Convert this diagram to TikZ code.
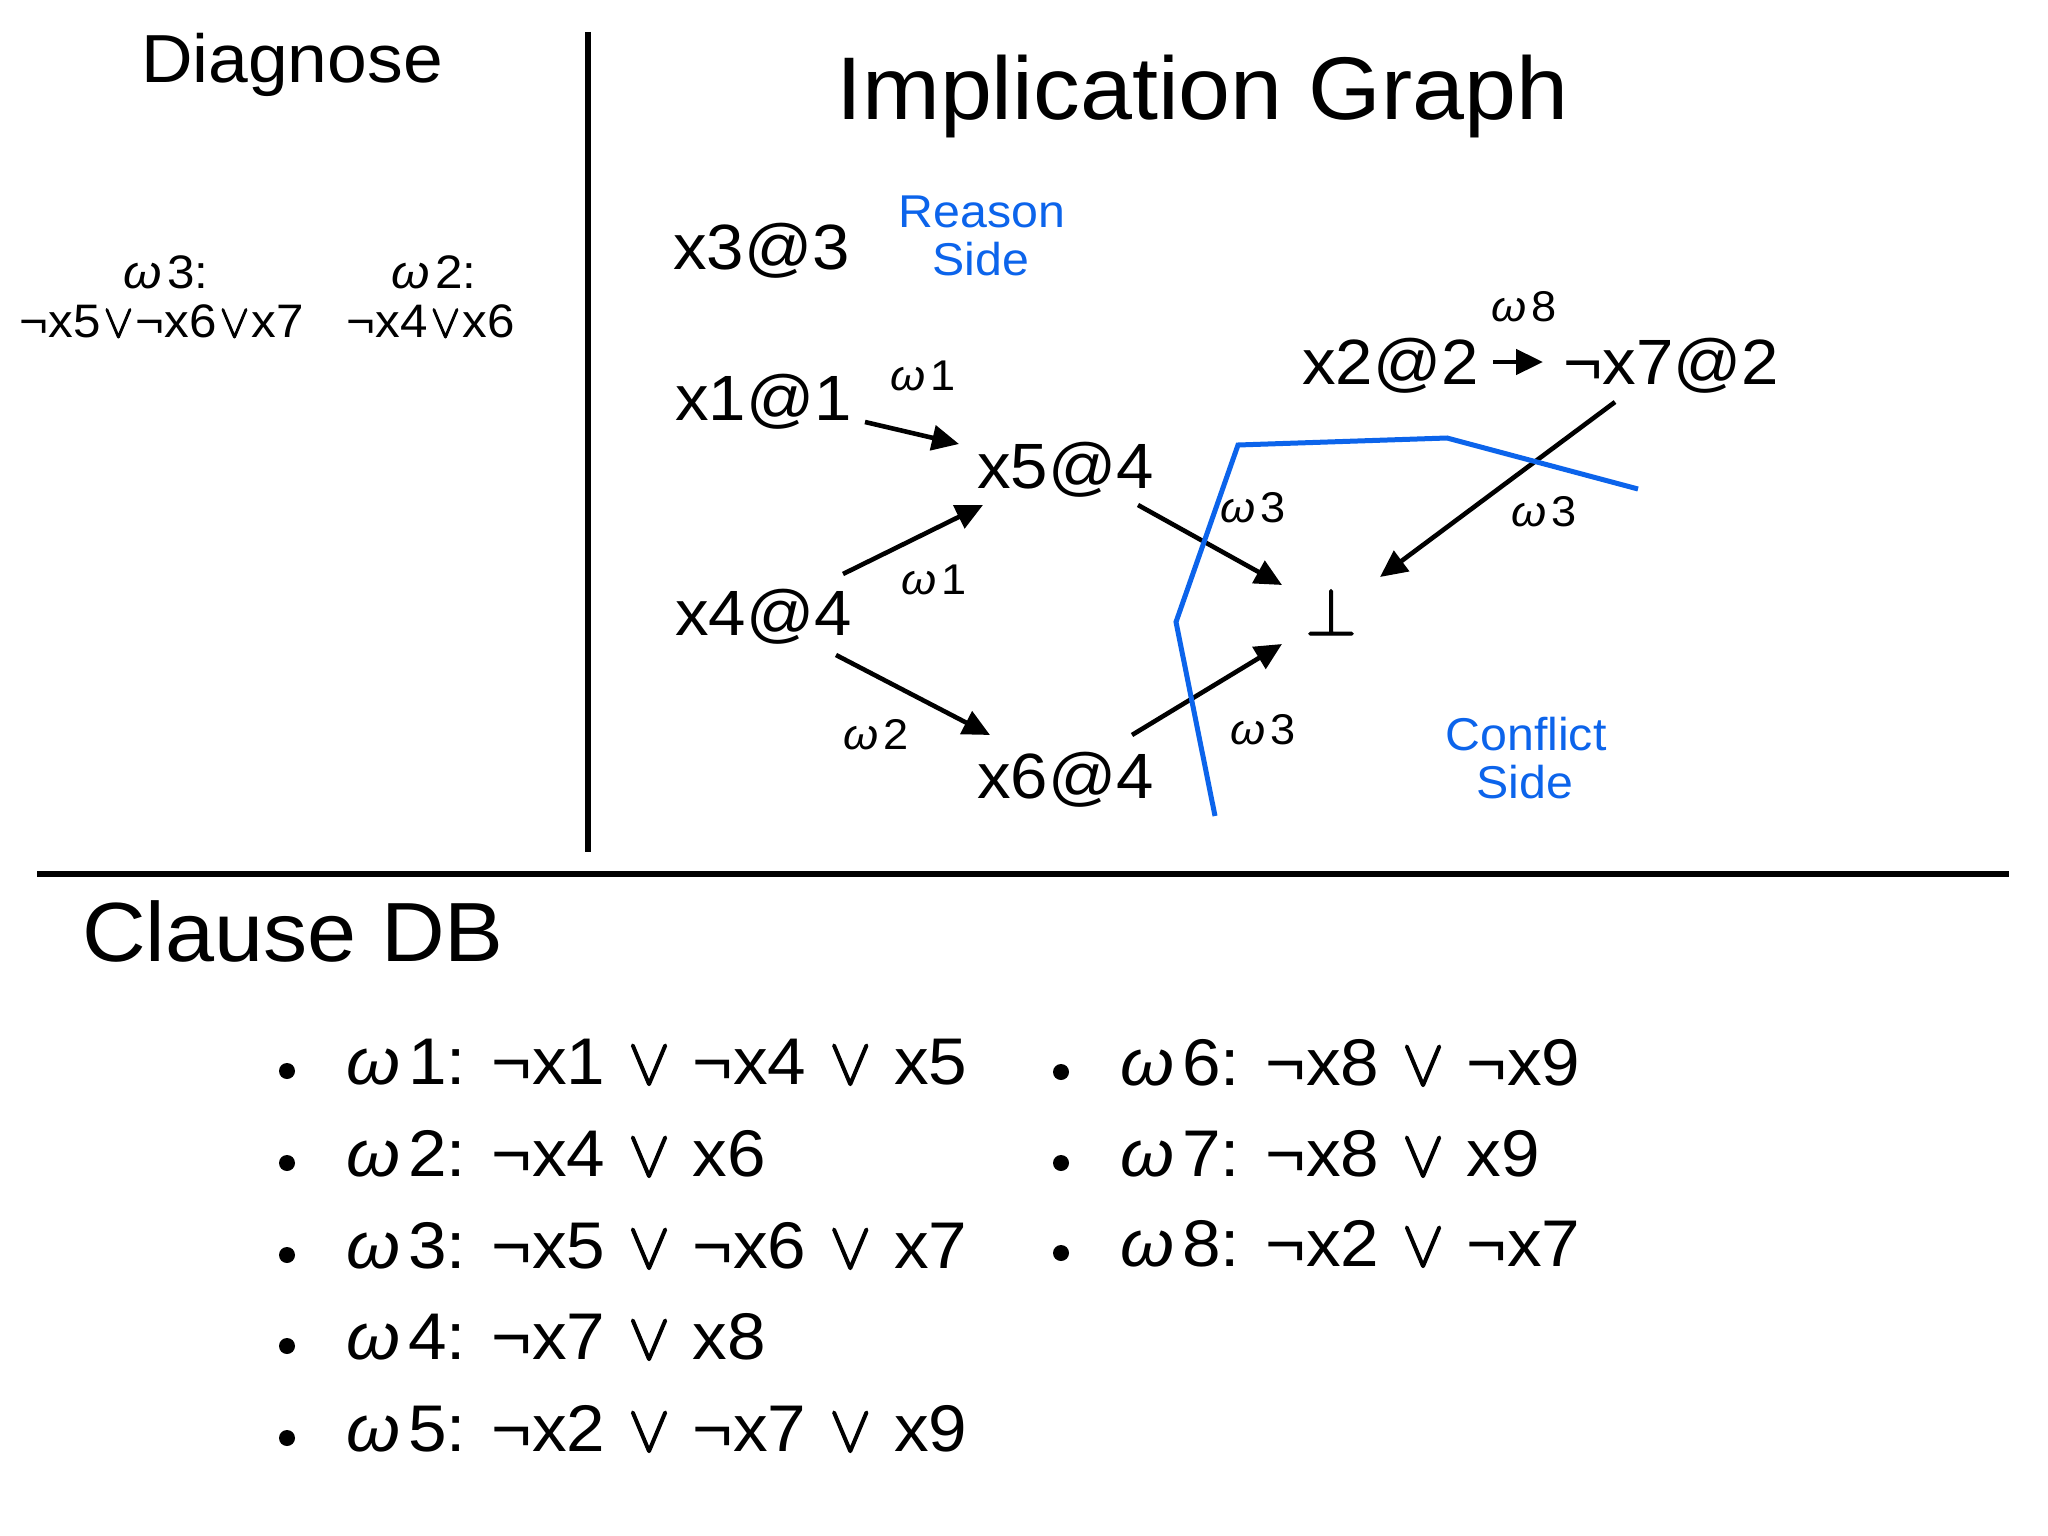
\documentclass[tikz,border=0pt]{standalone}
\usepackage{fontspec}
\setmainfont[FakeStretch=1.05]{Liberation Sans}
\newfontfamily\lmm[FakeBold=2]{latinmodern-math.otf}
\usetikzlibrary{arrows.meta,calc}
\definecolor{cutblue}{RGB}{12,100,235}
\newcommand\om{\textit{ω}\kern0.12em}
\newcommand\myor{\hspace{0.33em}{\lmm ∨}\hspace{0.33em}}
\newcommand\tightor{\hspace{0.04em}{\lmm ∨}\hspace{0.04em}}
\newcommand\mybot{{\lmm ⊥}}
\newcommand\fsz[1]{\fontsize{#1}{#1}\selectfont}
\begin{document}
\begin{tikzpicture}[x=1pt,y=-1pt,
  txt/.style={inner sep=0pt, anchor=base west},
  ctxt/.style={inner sep=0pt, anchor=base},
  gnode/.style={txt, font=\fsz{64}},
  wlab/.style={txt, font=\fsz{43}},
  arr/.style={line width=4.6pt, -{Triangle[length=27pt,width=25pt]}},
  rulel/.style={line width=6pt},
  cut/.style={line width=5pt, draw=cutblue, line join=miter},
  bluetxt/.style={ctxt, text=cutblue, font=\fsz{46}},
  bulletdot/.style={circle, fill=black, inner sep=0pt, minimum size=16pt},
  clause/.style={txt, font=\fsz{66}},
  diagtxt/.style={ctxt, font=\fsz{47}},
]
\fill[white] (0,0) rectangle (2048,1536);
\useasboundingbox (0,0) rectangle (2048,1536);

% separators
\draw[rulel] (588,32) -- (588,852);
\draw[rulel] (37,874) -- (2009,874);

% titles
\node[ctxt, font=\fsz{68}] (diag) at (292,83) {Diagnose};
\node[txt, font=\fsz{89}] (title) at (836,120) {Implication Graph};
\node[txt, font=\fsz{84}] (cdb) at (82,961) {Clause DB};

% diagnose contents
\node[diagtxt] (d3a) at (166,288) {\om3:};
\node[diagtxt] (d3b) at (162,337) {¬x5\tightor¬x6\tightor x7};
\node[diagtxt] (d2a) at (434,288) {\om2:};
\node[diagtxt] (d2b) at (431,337) {¬x4\tightor x6};

% graph nodes
\node[gnode] (x3) at (673,269) {x3@3};
\node[gnode] (x1) at (675,420) {x1@1};
\node[gnode] (x5) at (977,488) {x5@4};
\node[gnode] (x4) at (675,635) {x4@4};
\node[gnode] (x6) at (977,798) {x6@4};
\node[ctxt, font=\fsz{66}] (bot) at (1331,635) {\mybot};
\node[gnode] (x2) at (1302,384) {x2@2};
\node[gnode] (nx7) at (1563,384) {¬x7@2};

% side labels
\node[bluetxt] (reasonA) at (982,227) {Reason};
\node[bluetxt] (reasonB) at (981,275) {Side};
\node[bluetxt] (conflA) at (1526,750) {Conflict};
\node[bluetxt] (conflB) at (1525,798) {Side};

% edge labels
\node[wlab] (w1a) at (890,390) {\om1};
\node[wlab] (w1b) at (901,594) {\om1};
\node[wlab] (w2) at (843,749) {\om2};
\node[wlab] (w3a) at (1220,522) {\om3};
\node[wlab] (w3b) at (1230,744) {\om3};
\node[wlab] (w3c) at (1511,526) {\om3};
\node[wlab] (w8) at (1491,321) {\om8};

% arrows
\draw[arr] ($(x1.base west)+(190,2)$) -- ($(x5.base west)+(-18,-44)$);
\draw[arr] ($(x4.base west)+(168,-61)$) -- ($(x5.base west)+(6,17)$);
\draw[arr] ($(x4.base west)+(161,20)$) -- ($(x6.base west)+(13,-63)$);
\draw[arr] ($(x5.base west)+(161,17)$) -- ($(bot.base)+(-49,-50)$);
\draw[arr] ($(x6.base west)+(155,-63)$) -- ($(bot.base)+(-49,9)$);
\draw[arr] ($(x2.base west)+(191,-22)$) -- ($(nx7.base west)+(-20,-22)$);
\draw[arr] ($(nx7.base west)+(52,18)$) -- ($(bot.base)+(49,-58)$);

% cut line
\draw[cut] (1215,816) -- (1176,622) -- (1238,445) -- (1447,438) -- (1638,489);

% clause DB
\node[bulletdot] (b1) at (287,1071) {};
\node[bulletdot] (b2) at (287,1163) {};
\node[bulletdot] (b3) at (287,1255) {};
\node[bulletdot] (b4) at (287,1346) {};
\node[bulletdot] (b5) at (287,1438) {};
\node[bulletdot] (b6) at (1061,1072) {};
\node[bulletdot] (b7) at (1061,1163) {};
\node[bulletdot] (b8) at (1061,1253) {};
\node[clause] (c1) at (346,1084) {\om1: ¬x1\myor¬x4\myor x5};
\node[clause] (c2) at (346,1176) {\om2: ¬x4\myor x6};
\node[clause] (c3) at (346,1268) {\om3: ¬x5\myor¬x6\myor x7};
\node[clause] (c4) at (346,1359) {\om4: ¬x7\myor x8};
\node[clause] (c5) at (346,1451) {\om5: ¬x2\myor¬x7\myor x9};
\node[clause] (c6) at (1120,1085) {\om6: ¬x8\myor¬x9};
\node[clause] (c7) at (1120,1176) {\om7: ¬x8\myor x9};
\node[clause] (c8) at (1120,1266) {\om8: ¬x2\myor¬x7};
\end{tikzpicture}
\end{document}
